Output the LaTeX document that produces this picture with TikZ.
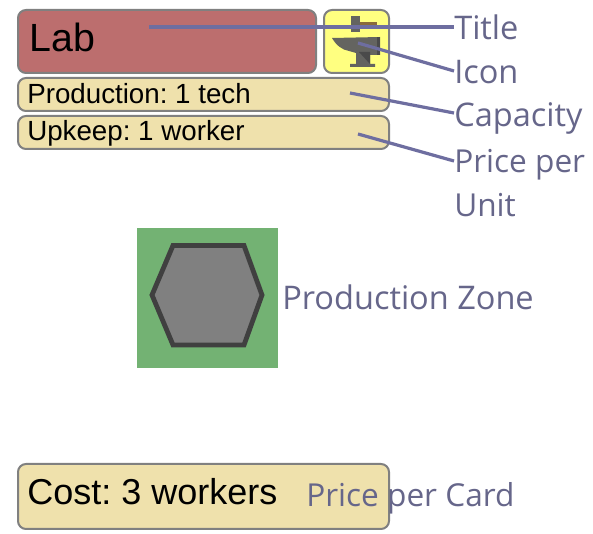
\documentclass[tikz,border=0pt]{standalone}
\usepackage{fontspec}
\setmainfont{Liberation Sans}
\newfontfamily\labelfont{Open Sans}
\frenchspacing
\definecolor{cardedge}{HTML}{808080}
\definecolor{titlered}{HTML}{BC6E6E}
\definecolor{tan}{HTML}{EFE1AC}
\definecolor{iconyellow}{HTML}{FFFF80}
\definecolor{anvilgrey}{HTML}{646460}
\definecolor{anvildark}{HTML}{4A4A4A}
\definecolor{anvilbrown}{HTML}{8A6A3A}
\definecolor{zonegreen}{HTML}{73B273}
\definecolor{hexgrey}{HTML}{808080}
\definecolor{hexedge}{HTML}{404040}
\definecolor{linkblue}{HTML}{6E6EA0}
\definecolor{labelgrey}{HTML}{66668A}
\tikzset{
  x=0.75pt,y=-0.75pt,
  card/.style={draw=cardedge,line width=1.5pt,rounded corners=6pt},
  cardtext/.style={anchor=base west,inner sep=0pt,text=black},
  callout/.style={anchor=base west,inner sep=0pt,text=labelgrey,font=\labelfont\fontsize{24.4}{24.4}\selectfont},
  calloutsmall/.style={callout,font=\labelfont\fontsize{23.7}{23.7}\selectfont},
  link/.style={draw=linkblue,line width=2.4pt},
}
\begin{document}
\begin{tikzpicture}
\useasboundingbox[fill=white] (0,0) rectangle (593,534);
\draw[card,fill=titlered] (18,10) rectangle (316,73);
\draw[card,fill=iconyellow] (324,10) rectangle (389,73);
\draw[card,fill=tan] (18,78) rectangle (389,111);
\draw[card,fill=tan] (18,116) rectangle (389,149);
\draw[card,fill=tan] (18,464) rectangle (389,529);
% anvil
\fill[anvilbrown] (360,22) rectangle (377,25);
\fill[anvilgrey] (351,16) rectangle (360,32);
\fill[anvilgrey] (332,38) -- (380,37) -- (380,55) -- (370,55) -- (370,64) -- (375,64) -- (375,67) -- (350,67) -- (350,64) -- (356,64) -- (356,53) -- (349,51) .. controls (342,50) and (336,45) .. (332,38) -- cycle;
\fill[anvildark] (377,37) rectangle (380,55);
\fill[anvildark] (359,52) -- (370,64) -- (370,52) -- cycle;
\fill[zonegreen] (137,228) rectangle (278,368);
\draw[draw=hexedge,fill=hexgrey,line width=3.6pt,line join=miter] (152,295) -- (173,245.5) -- (244,245.5) -- (262,295) -- (244,345) -- (173,345) -- cycle;
\node[cardtext,font=\fontsize{29.5}{29.5}\selectfont] (lab) at (29,52) {Lab};
\node[cardtext,font=\fontsize{20.8}{20.8}\selectfont] (prod) at (27,104) {Production: 1 tech};
\node[cardtext,font=\fontsize{20.8}{20.8}\selectfont] (upk) at (27,141) {Upkeep: 1 worker};
\node[cardtext,font=\fontsize{27}{27}\selectfont] (cost) at (27,505) {Cost: 3 workers};
\node[callout] (title) at (454,40) {Title};
\node[callout] (icon) at (454,84) {Icon};
\node[callout] (cap) at (454,127) {Capacity};
\node[calloutsmall] (ppu) at (454,173) {Price per};
\node[calloutsmall] (unit) at (454,217) {Unit};
\node[callout] (zone) at (282,310) {Production Zone};
\node[calloutsmall] (card) at (306,507) {Price per Card};
\coordinate (t0) at (149,27);
\coordinate (i0) at (358,43);
\coordinate (c0) at (350,93);
\coordinate (p0) at (358,134);
\draw[link] (t0) -- (454,27);
\draw[link] (i0) -- (454,71);
\draw[link] (c0) -- (454,113);
\draw[link] (p0) -- (454,161);
\end{tikzpicture}
\end{document}
